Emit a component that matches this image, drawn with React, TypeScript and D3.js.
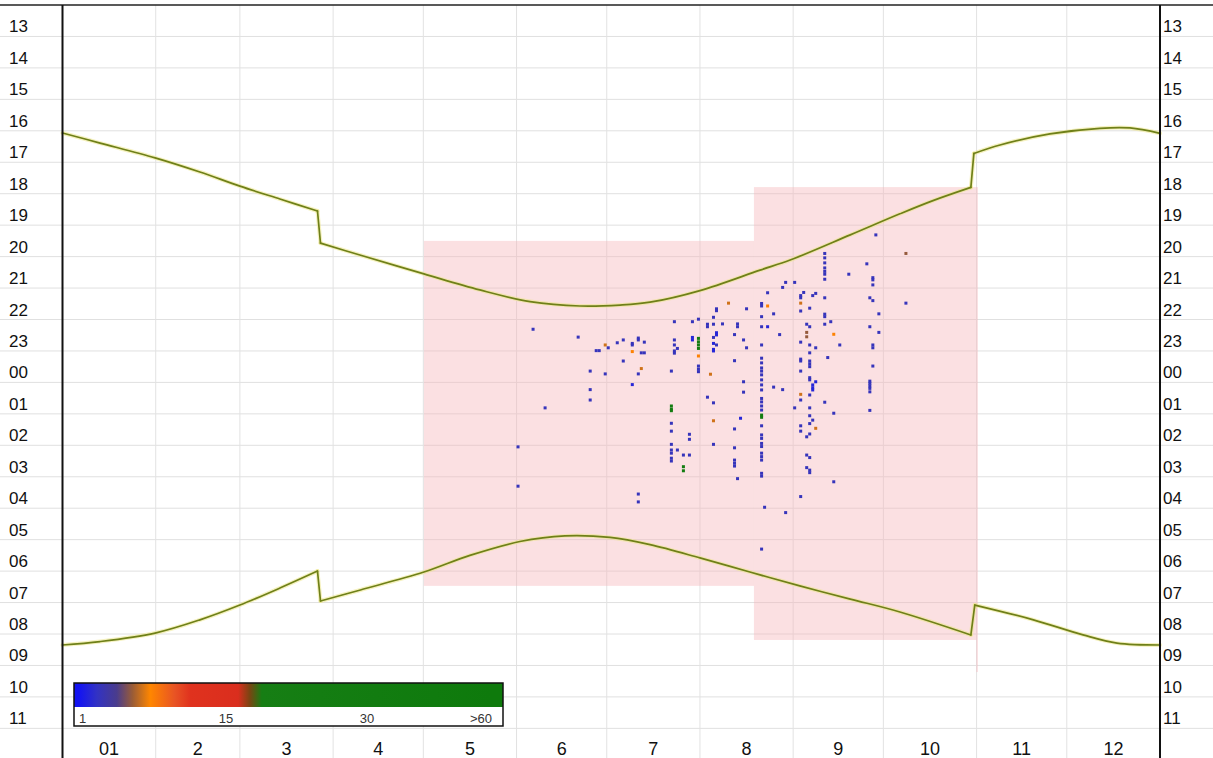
import React from 'react';
import * as d3 from 'd3';

// ---- chart data -------------------------------------------------------

// Day-of-year (0 = 1 Jan) on which each month begins, plus year end.
const monthStarts = [0, 31, 59, 90, 120, 151, 181, 212, 243, 273, 304, 334, 365];
const monthLabels = ['01', '2', '3', '4', '5', '6', '7', '8', '9', '10', '11', '12'];

// Clock hours shown on both vertical axes (values past 24 belong to the next morning).
const hourTicks = [13, 14, 15, 16, 17, 18, 19, 20, 21, 22, 23, 24, 25, 26, 27, 28, 29, 30, 31, 32, 33, 34, 35];

// Days on which the clocks change (start and end of summer time).
const dstChanges = [85, 303];

// Sunset time [day, hour] through the year; the pairs around each DST change show the jump.
const sunset: [number, number][] = [
  [0, 16.07], [12.5, 16.39], [30.8, 16.86], [45.7, 17.31], [59, 17.76], [72.3, 18.17],
  [84.8, 18.55], [85.8, 19.57], [98.9, 19.95], [120.2, 20.55], [138.8, 21.06],
  [155.5, 21.43], [172.1, 21.57], [185.4, 21.54], [195.4, 21.45], [212, 21.08],
  [232, 20.43], [242, 20.11], [262, 19.31], [278.5, 18.64], [289.5, 18.22],
  [302.1, 17.8], [303.1, 16.72], [311.8, 16.45], [328.4, 16.1], [345, 15.92],
  [355, 15.91], [365, 16.08],
];

// Sunrise time [day, hour + 24] through the year.
const sunrise: [number, number][] = [
  [0, 32.35], [12.5, 32.24], [30.8, 31.97], [45.7, 31.55], [59, 31.08], [72.3, 30.54],
  [84.8, 30.0], [85.8, 30.95], [99.1, 30.6], [120.2, 30.03], [135.5, 29.5],
  [152.1, 29.06], [167.1, 28.88], [182.1, 28.93], [195.4, 29.16], [212, 29.58],
  [228.6, 30.03], [245.2, 30.47], [262, 30.89], [278.5, 31.3], [302.1, 32.03],
  [303.4, 31.08], [322.9, 31.55], [339.4, 32.03], [350.7, 32.29], [365, 32.35],
];

// Recording periods: first/last day and nightly start/end hour.
const recordingPeriods = [
  { start: 120.2, end: 229.96, from: 19.5, to: 30.47 },
  { start: 229.96, end: 304.45, from: 17.79, to: 32.19 },
  { start: 303.9, end: 304.45, from: 32.19, to: 33.21 },
];

// Detections: [day of year, hour, number of passes]
const detections: [number, number, number][] = [
  [151, 26.05, 3], [151, 27.3, 3], [156, 22.31, 3], [160, 24.81, 3], [171, 22.56, 3],
  [175, 23.64, 3], [175, 24.23, 3], [175, 24.56, 3], [177, 22.99, 3], [178, 22.99, 3],
  [180, 22.81, 7], [180, 23.73, 3], [181, 22.9, 3], [184, 22.74, 3], [186, 22.65, 3],
  [186, 23.32, 3], [189, 22.76, 3], [189, 22.81, 3], [189, 23.02, 8], [189, 24.07, 2],
  [191, 22.59, 3], [191, 22.65, 3], [191, 23.73, 3], [191, 27.55, 3], [191, 27.8, 3],
  [192, 23.06, 3], [192, 23.56, 7], [193, 22.72, 3], [193, 23.06, 3],
  [202, 23.64, 3], [202, 24.75, 35], [202, 24.85, 35], [202, 24.9, 35], [202, 25.3, 3],
  [202, 25.55, 3], [202, 25.97, 3], [202, 26.15, 3], [202, 26.25, 3], [202, 26.41, 3],
  [202, 26.5, 3], [203, 22.07, 3], [203, 22.65, 3], [203, 22.81, 3], [203, 23.0, 3],
  [203, 23.07, 3], [204, 22.92, 3], [204, 26.15, 3], [206, 26.31, 3], [206, 26.68, 35],
  [206, 26.81, 35], [208, 25.65, 3], [208, 25.81, 3], [208, 26.31, 3], [209, 22.07, 3],
  [209, 22.57, 2], [209, 22.65, 2], [211, 21.99, 3], [211, 22.6, 35], [211, 22.71, 35],
  [211, 22.81, 35], [211, 22.92, 35], [211, 23.16, 8], [211, 23.48, 3], [211, 23.58, 3],
  [211, 23.66, 3], [214, 22.15, 3], [214, 22.23, 3], [214, 24.47, 3], [215, 23.74, 7],
  [216, 21.93, 3], [216, 22.15, 3], [216, 22.57, 3], [216, 22.76, 2], [216, 22.95, 2],
  [216, 23.0, 2], [216, 24.65, 3], [216, 25.22, 7], [216, 25.97, 3], [217, 21.66, 3],
  [217, 21.72, 3], [217, 22.42, 2], [217, 22.49, 2], [217, 22.81, 3], [219, 22.14, 3],
  [221, 21.48, 7], [223, 22.48, 3], [223, 23.31, 3], [223, 25.48, 3], [223, 26.08, 3],
  [223, 26.47, 3], [223, 26.57, 3], [223, 26.66, 3], [224, 22.14, 3], [224, 22.23, 3],
  [224, 27.06, 3], [225, 25.14, 2], [226, 22.65, 3], [226, 23.98, 3], [226, 24.31, 3],
  [227, 21.66, 3], [227, 22.9, 3],
  [232, 21.49, 3], [232, 21.57, 3], [232, 21.91, 3], [232, 22.23, 3], [232, 22.81, 3],
  [232, 23.23, 3], [232, 23.38, 3], [232, 23.54, 3], [232, 23.64, 3], [232, 23.76, 3],
  [232, 23.92, 3], [232, 24.08, 3], [232, 24.24, 3], [232, 24.51, 3], [232, 24.62, 3],
  [232, 24.75, 3], [232, 24.88, 3], [232, 25.04, 35], [232, 25.11, 35], [232, 25.38, 3],
  [232, 25.67, 3], [232, 25.78, 3], [232, 25.94, 3], [232, 26.04, 3], [232, 26.25, 3],
  [232, 26.36, 3], [232, 26.47, 3], [232, 26.89, 3], [232, 26.98, 3], [232, 29.3, 3],
  [233, 27.97, 3], [234, 21.15, 3], [234, 21.57, 8], [234, 22.23, 2], [236, 21.82, 3],
  [236, 24.15, 3], [238, 22.48, 3], [239, 20.98, 3], [239, 24.23, 3], [240, 20.82, 3],
  [240, 28.14, 3], [243, 20.82, 3], [243, 24.81, 3],
  [245, 21.24, 3], [245, 21.31, 3], [245, 21.48, 7], [245, 21.73, 3], [245, 22.72, 3],
  [245, 23.26, 3], [245, 23.32, 3], [245, 23.64, 3], [245, 24.38, 7], [245, 24.56, 3],
  [245, 25.38, 3], [245, 25.55, 3], [245, 27.63, 3], [246, 21.14, 3], [247, 22.15, 3],
  [247, 22.41, 6], [247, 22.55, 6], [247, 25.73, 3], [247, 26.31, 3], [247, 26.71, 3],
  [248, 21.64, 3], [248, 22.23, 3], [248, 22.81, 3], [248, 23.06, 3], [248, 23.32, 3],
  [248, 23.41, 3], [248, 23.5, 3], [248, 23.85, 3], [248, 23.92, 3], [248, 24.4, 3],
  [248, 24.81, 3], [248, 25.06, 3], [248, 25.31, 3], [248, 25.64, 3], [248, 26.39, 3],
  [248, 26.79, 3], [248, 26.87, 3], [249, 21.24, 3], [249, 24.08, 2], [249, 24.17, 2],
  [249, 24.24, 2], [249, 25.2, 3], [250, 21.17, 3], [250, 22.9, 3], [250, 23.98, 2],
  [250, 25.46, 7],
  [253, 19.9, 3], [253, 20.04, 3], [253, 20.2, 3], [253, 20.36, 3], [253, 20.47, 3],
  [253, 20.56, 3], [253, 20.72, 3], [253, 21.31, 3], [253, 21.83, 3], [253, 21.91, 3],
  [253, 22.15, 3], [253, 24.63, 3], [254, 23.21, 3], [255, 22.07, 3], [256, 22.47, 8],
  [256, 24.98, 3], [256, 27.16, 3], [258, 22.81, 3], [261, 20.56, 3], [267, 20.23, 3],
  [268, 21.31, 3], [268, 22.23, 3], [268, 23.96, 3], [268, 24.03, 3], [268, 24.11, 3],
  [268, 24.19, 3], [268, 24.3, 3], [268, 24.89, 3], [269, 20.67, 3], [269, 20.74, 3],
  [269, 20.9, 3], [269, 21.4, 3], [269, 22.81, 3], [269, 22.9, 3], [269, 23.48, 3],
  [270, 19.31, 3], [271, 21.82, 3], [271, 22.41, 3], [280, 19.9, 6], [280, 21.48, 3],
];

// Colour ramp for the number of passes.
const rampValues = [1, 2.7, 4.6, 6.1, 7.8, 10.1, 11.6, 16.3, 17.5, 18.8, 60];
const rampColors = ['#1414f2', '#3232c4', '#4a3c8c', '#9a5c36', '#ff8600', '#e85424', '#e0321e', '#da2e1e', '#7c4412', '#167e14', '#0e7a0c'];

// Legend tick labels and the pass counts they sit at.
const legendTickValues = [1, 15, 30, 60];
const legendTickLabels = ['1', '15', '30', '>60'];

// ---- component ------------------------------------------------------

const W = 1213;
const H = 758;
const FONT = '"Liberation Sans", Arial, Helvetica, sans-serif';

// Split a sun-time series into its smooth stretches between clock changes.
function splitAtClockChanges(series: [number, number][]): [number, number][][] {
  const parts: [number, number][][] = [[]];
  let k = 0;
  for (const p of series) {
    if (k < dstChanges.length && p[0] > dstChanges[k]) {
      parts.push([]);
      k += 1;
    }
    parts[parts.length - 1].push(p);
  }
  return parts;
}

export default function App() {
  const plotLeft = 62.5;
  const plotRight = 1160;
  const plotTop = 5;
  const rowH = 31.45;

  const x = d3.scaleLinear().domain([0, 365]).range([plotLeft, plotRight]);
  const y = d3.scaleLinear().domain([12, 36]).range([plotTop, plotTop + 24 * rowH]);

  const color = d3.scaleLinear<string>().domain(rampValues).range(rampColors).clamp(true);

  const legendBox = { x0: 74, x1: 503, y0: 683, ySplit: 707, y1: 726 };
  const legendX = d3.scaleLinear().domain(legendTickValues).range([79, 226, 367, 492]).clamp(true);

  const smooth = d3
    .line<[number, number]>()
    .x((d) => x(d[0]))
    .y((d) => y(d[1]))
    .curve(d3.curveCatmullRom.alpha(0.5));
  const straight = d3
    .line<[number, number]>()
    .x((d) => x(d[0]))
    .y((d) => y(d[1]));

  const sunPaths = (series: [number, number][]) => {
    const parts = splitAtClockChanges(series);
    const paths: string[] = parts.map((p) => smooth(p) || '');
    for (let i = 1; i < parts.length; i++) {
      const a = parts[i - 1][parts[i - 1].length - 1];
      const b = parts[i][0];
      paths.push(straight([a, b]) || '');
    }
    return paths;
  };

  const hourLabel = (h: number) => String(h % 24).padStart(2, '0');

  return (
    <svg
      width={W}
      height={H}
      viewBox={`0 0 ${W} ${H}`}
      style={{ position: 'absolute', left: 0, top: 0, background: '#fff' }}
    >
      <defs>
        <linearGradient id="passRamp" x1="0" x2="1" y1="0" y2="0">
          {rampValues.map((v, i) => (
            <stop
              key={i}
              offset={(legendX(v) - legendBox.x0) / (legendBox.x1 - legendBox.x0)}
              stopColor={rampColors[i]}
            />
          ))}
        </linearGradient>
      </defs>
      <rect x={0} y={0} width={W} height={H} fill="#fff" />

      {/* grid */}
      {hourTicks.map((h) => (
        <line key={'h' + h} x1={0} x2={W} y1={y(h)} y2={y(h)} stroke="#e0e0e0" strokeWidth={1} />
      ))}
      {monthStarts.slice(1, -1).map((d) => (
        <line key={'m' + d} x1={x(d)} x2={x(d)} y1={plotTop} y2={H} stroke="#e2e2e2" strokeWidth={1} />
      ))}

      {/* recording periods */}
      {recordingPeriods.map((p, i) => (
        <rect
          key={'p' + i}
          x={x(p.start)}
          y={y(p.from)}
          width={x(p.end) - x(p.start)}
          height={y(p.to) - y(p.from)}
          fill="#f6b4bb"
          fillOpacity={0.42}
        />
      ))}

      {/* sunset / sunrise */}
      {[sunset, sunrise].map((s, i) => (
        <g key={'sun' + i} fill="none" strokeLinecap="round" strokeLinejoin="round">
          {sunPaths(s).map((d, j) => (
            <path key={'g' + j} d={d} stroke="#ece68a" strokeWidth={4} strokeOpacity={0.55} />
          ))}
          {sunPaths(s).map((d, j) => (
            <path key={'l' + j} d={d} stroke="#6f8018" strokeWidth={1.7} />
          ))}
        </g>
      ))}

      {/* detections */}
      {detections.map(([d, h, n], i) => (
        <rect key={'d' + i} x={x(d)} y={y(h) - 1.5} width={3} height={3} fill={color(n)} />
      ))}

      {/* frame */}
      <line x1={0} x2={W} y1={plotTop} y2={plotTop} stroke="#222" strokeWidth={1.6} />
      <line x1={plotLeft} x2={plotLeft} y1={plotTop} y2={H} stroke="#111" strokeWidth={2} />
      <line x1={plotRight} x2={plotRight} y1={plotTop} y2={H} stroke="#111" strokeWidth={2} />

      {/* hour labels */}
      {hourTicks.map((h) => (
        <g key={'t' + h} fontFamily={FONT} fontSize={17} fill="#111">
          <text x={9} y={y(h) - 4}>{hourLabel(h)}</text>
          <text x={plotRight + 3} y={y(h) - 4}>{hourLabel(h)}</text>
        </g>
      ))}

      {/* month labels */}
      {monthLabels.map((m, i) => (
        <text
          key={'ml' + i}
          x={(x(monthStarts[i]) + x(monthStarts[i + 1])) / 2}
          y={755}
          textAnchor="middle"
          fontFamily={FONT}
          fontSize={18}
          fill="#111"
        >
          {m}
        </text>
      ))}

      {/* legend */}
      <rect
        x={legendBox.x0}
        y={legendBox.y0}
        width={legendBox.x1 - legendBox.x0}
        height={legendBox.y1 - legendBox.y0}
        fill="#fff"
      />
      <rect
        x={legendBox.x0}
        y={legendBox.y0}
        width={legendBox.x1 - legendBox.x0}
        height={legendBox.ySplit - legendBox.y0}
        fill="url(#passRamp)"
      />
      <rect
        x={legendBox.x0}
        y={legendBox.y0}
        width={legendBox.x1 - legendBox.x0}
        height={legendBox.y1 - legendBox.y0}
        fill="none"
        stroke="#111"
        strokeWidth={1.5}
      />
      {legendTickValues.map((v, i) => (
        <text
          key={'lt' + i}
          x={legendX(v)}
          y={723}
          textAnchor={i === 0 ? 'start' : i === legendTickValues.length - 1 ? 'end' : 'middle'}
          fontFamily={FONT}
          fontSize={13}
          fill="#333"
        >
          {legendTickLabels[i]}
        </text>
      ))}
    </svg>
  );
}
